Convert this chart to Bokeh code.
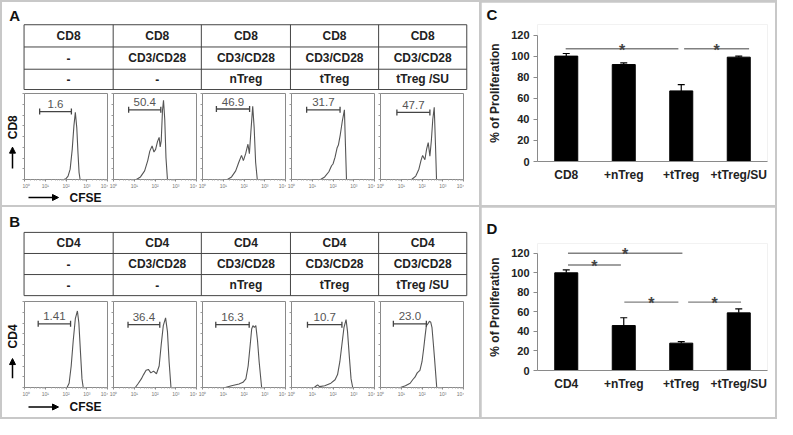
import math
from bokeh.plotting import figure
from bokeh.layouts import row, column
from bokeh.models import (Range1d, FixedTicker, Arrow, NormalHead, Whisker,
                          TeeHead, ColumnDataSource)
from bokeh.core.properties import value
from bokeh.embed import file_html
from bokeh.resources import INLINE

FONT = "Liberation Sans"

# ------------------------------------------------------------------ data
A_row1 = ["CD8", "CD8", "CD8", "CD8", "CD8"]
A_row2 = ["-", "CD3/CD28", "CD3/CD28", "CD3/CD28", "CD3/CD28"]
A_row3 = ["-", "-", "nTreg", "tTreg", "tTreg /SU"]
B_row1 = ["CD4", "CD4", "CD4", "CD4", "CD4"]
B_row2 = ["-", "CD3/CD28", "CD3/CD28", "CD3/CD28", "CD3/CD28"]
B_row3 = ["-", "-", "nTreg", "tTreg", "tTreg /SU"]

decade_labels = ["10\u2070", "10\u00b9", "10\u00b2", "10\u00b3", "10\u2074"]

# gated percentages and gate positions (log10 CFSE, relative count)
A_pct = ["1.6", "50.4", "46.9", "31.7", "47.7"]
A_gate_lo = [0.73, 0.73, 0.67, 0.73, 0.79]
A_gate_hi = [2.26, 2.28, 2.27, 2.34, 2.38]
A_gate_y = [0.79, 0.81, 0.82, 0.81, 0.78]
B_pct = ["1.41", "36.4", "16.3", "10.7", "23.0"]
B_gate_lo = [0.66, 0.70, 0.64, 0.77, 0.62]
B_gate_hi = [2.22, 2.23, 2.25, 2.43, 2.21]
B_gate_y = [0.74, 0.73, 0.73, 0.73, 0.74]

# CFSE histograms (x = log10 CFSE, y = relative count)
A1_x = [1.9, 2.0, 2.1, 2.2, 2.3, 2.38, 2.45, 2.52, 2.58, 2.63, 2.68]
A1_y = [0, 0.01, 0.04, 0.12, 0.35, 0.62, 0.78, 0.6, 0.3, 0.08, 0]
A2_x = [1.1, 1.3, 1.5, 1.65, 1.75, 1.86, 1.95, 2.03, 2.12, 2.2, 2.25, 2.3, 2.36, 2.41, 2.47, 2.53, 2.6]
A2_y = [0, 0.03, 0.1, 0.22, 0.33, 0.39, 0.32, 0.35, 0.44, 0.49, 0.38, 0.45, 0.8, 0.92, 0.7, 0.25, 0]
A3_x = [1.2, 1.4, 1.6, 1.75, 1.88, 1.97, 2.08, 2.19, 2.26, 2.33, 2.42, 2.49, 2.56, 2.64]
A3_y = [0, 0.03, 0.1, 0.2, 0.28, 0.22, 0.3, 0.41, 0.3, 0.55, 0.85, 0.6, 0.2, 0]
A4_x = [1.4, 1.6, 1.8, 1.93, 2.0, 2.1, 2.2, 2.26, 2.35, 2.45, 2.55, 2.6, 2.65]
A4_y = [0, 0.03, 0.09, 0.16, 0.18, 0.26, 0.37, 0.4, 0.52, 0.68, 0.81, 0.4, 0]
A5_x = [1.5, 1.7, 1.85, 1.95, 2.03, 2.14, 2.22, 2.3, 2.38, 2.45, 2.52, 2.59, 2.65, 2.7]
A5_y = [0, 0.04, 0.12, 0.22, 0.28, 0.23, 0.35, 0.43, 0.27, 0.45, 0.7, 0.84, 0.4, 0]
B1_x = [2.05, 2.15, 2.25, 2.35, 2.45, 2.55, 2.62, 2.7, 2.77, 2.83]
B1_y = [0, 0.05, 0.25, 0.55, 0.8, 0.89, 0.75, 0.4, 0.1, 0]
B2_x = [1.05, 1.2, 1.34, 1.45, 1.57, 1.68, 1.8, 1.93, 2.07, 2.2, 2.3, 2.4, 2.51, 2.6, 2.68, 2.77]
B2_y = [0, 0.05, 0.1, 0.15, 0.2, 0.21, 0.17, 0.19, 0.16, 0.25, 0.5, 0.72, 0.81, 0.65, 0.3, 0]
B3_x = [1.1, 1.4, 1.76, 1.95, 2.09, 2.2, 2.3, 2.37, 2.43, 2.5, 2.57, 2.65, 2.73, 2.85]
B3_y = [0, 0.02, 0.04, 0.06, 0.1, 0.25, 0.5, 0.68, 0.72, 0.7, 0.72, 0.55, 0.3, 0]
B4_x = [1.1, 1.2, 1.26, 1.35, 1.6, 1.9, 2.1, 2.22, 2.33, 2.43, 2.53, 2.63, 2.7, 2.79, 2.87, 2.95]
B4_y = [0, 0.02, 0.03, 0.01, 0.02, 0.05, 0.09, 0.15, 0.3, 0.5, 0.7, 0.79, 0.65, 0.35, 0.1, 0]
B5_x = [0.96, 1.2, 1.43, 1.55, 1.66, 1.77, 1.9, 2.0, 2.08, 2.15, 2.21, 2.28, 2.36, 2.42, 2.48, 2.55, 2.6, 2.71]
B5_y = [0, 0.02, 0.05, 0.09, 0.12, 0.17, 0.2, 0.3, 0.45, 0.6, 0.72, 0.74, 0.77, 0.76, 0.7, 0.5, 0.35, 0]

# proliferation bar charts
C_cats = ["CD8", "+nTreg", "+tTreg", "+tTreg/SU"]
C_vals = [100, 92, 67, 99]
C_err = [2.5, 1.5, 6, 1]
C_sig_from = [0.49, 2.55]
C_sig_to = [2.45, 3.68]
C_sig_level = [107, 107]

D_cats = ["CD4", "+nTreg", "+tTreg", "+tTreg/SU"]
D_vals = [100, 46, 28, 59]
D_err = [3, 8, 1.6, 4]
D_sig_from = [0.53, 0.53, 1.51, 2.62]
D_sig_to = [1.45, 2.52, 2.45, 3.54]
D_sig_level = [108, 120, 70, 70]

# ------------------------------------------------------------------ helpers
GRAY = "#8a8a8a"
SEP = "#c8c8c8"


def base_fig(**kw):
    p = figure(output_backend="svg", toolbar_location=None, **kw)
    p.grid.visible = False
    p.background_fill_color = "white"
    p.border_fill_color = "white"
    return p


def canvas(width, height, xr, yr):
    p = base_fig(width=width, height=height, x_range=Range1d(*xr), y_range=Range1d(*yr),
                 min_border=0, x_axis_location=None, y_axis_location=None)
    p.outline_line_color = None
    return p


def add_text(p, x, y, texts, size, bold=True, color="#111", align="left",
             baseline="middle", angle=0.0):
    p.text(x=x, y=y, text=texts, text_font=value(FONT),
           text_font_style="bold" if bold else "normal", text_font_size=size,
           text_color=color, text_align=align, text_baseline=baseline, angle=angle)


def add_arrow(p, x0, y0, x1, y1):
    p.add_layout(Arrow(end=NormalHead(size=6, fill_color="black", line_color="black"),
                       x_start=x0, y_start=y0, x_end=x1, y_end=y1,
                       line_color="black", line_width=1.5))


def header(letter, rows, row_lines, ref_h, height, letter_y):
    col_lines = [22, 113, 203, 294, 384, 474]
    p = canvas(477, height, (0, 487), (ref_h, 0))
    add_text(p, [7], [letter_y], [letter], "15px")
    n = len(row_lines)
    p.segment(x0=[col_lines[0]] * n, y0=row_lines, x1=[col_lines[-1]] * n,
              y1=row_lines, line_color="#444", line_width=1)
    m = len(col_lines)
    p.segment(x0=col_lines, y0=[row_lines[0]] * m, x1=col_lines,
              y1=[row_lines[-1]] * m, line_color="#444", line_width=1)
    xc = [(col_lines[i] + col_lines[i + 1]) / 2 for i in range(5)]
    for r, texts in enumerate(rows):
        yc = (row_lines[r] + row_lines[r + 1]) / 2
        add_text(p, xc, [yc] * 5, texts, "12px", color="#222", align="center")
    return p


def side(marker, height, y_lab, y_arr0, y_arr1):
    p = canvas(20, height, (0, 20), (0, height))
    add_text(p, [10], [y_lab], [marker], "12px", align="center", angle=math.pi / 2)
    add_arrow(p, 10, y_arr0, 10, y_arr1)
    return p


def footer(height, yc):
    p = canvas(477, height, (0, 477), (0, height))
    add_arrow(p, 26, yc, 56, yc)
    add_text(p, [67], [yc], ["CFSE"], "12px")
    return p


minor_x = [n + math.log10(k) for n in range(4) for k in range(2, 10)]


def hist(xs, ys, lo, hi, gy, pct, first):
    p = base_fig(width=86 if first else 89, height=101,
                 x_range=Range1d(0, 4), y_range=Range1d(0, 1),
                 min_border_left=2 if first else 5, min_border_right=1,
                 min_border_top=3, min_border_bottom=10)
    p.outline_line_color = GRAY
    xa = p.xaxis[0]
    xa.ticker = FixedTicker(ticks=[0, 1, 2, 3, 4], minor_ticks=minor_x)
    xa.major_label_overrides = {i: decade_labels[i] for i in range(5)}
    xa.major_label_text_font_size = "5px"
    xa.major_label_text_color = "#777"
    xa.major_label_standoff = 1
    xa.major_tick_out = 2
    xa.major_tick_in = 0
    xa.minor_tick_out = 1
    xa.minor_tick_in = 0
    xa.axis_line_color = GRAY
    xa.major_tick_line_color = GRAY
    xa.minor_tick_line_color = "#aaa"
    ya = p.yaxis[0]
    # only small unlabeled ticks on the count axis
    ya.ticker = FixedTicker(ticks=[], minor_ticks=[0, 0.125, 0.25, 0.375, 0.5,
                                                   0.625, 0.75, 0.875, 1.0])
    ya.major_label_standoff = 0
    ya.minor_tick_out = 2
    ya.minor_tick_in = 0
    ya.axis_line_color = GRAY
    ya.minor_tick_line_color = "#999"
    p.line(xs, ys, line_color="#555", line_width=1.1)
    p.segment(x0=[lo], y0=[gy], x1=[hi], y1=[gy], line_color="#444", line_width=1.3)
    p.segment(x0=[lo, hi], y0=[gy - 0.035] * 2, x1=[lo, hi], y1=[gy + 0.035] * 2,
              line_color="#444", line_width=1.3)
    add_text(p, [(lo + hi) / 2], [gy + 0.04], [pct], "11.5px", bold=False,
             color="#555", align="center", baseline="bottom")
    return p


def bars(cats, vals, errs, sf, st, sl, letter, height, top, bottom, standoff):
    xs = [i + 0.5 for i in range(len(cats))]
    src = ColumnDataSource(dict(x=xs, top=vals,
                                upper=[v + e for v, e in zip(vals, errs)]))
    p = base_fig(width=294, height=height, x_range=Range1d(0, 4),
                 y_range=Range1d(0, 130), min_border_left=56, min_border_right=8,
                 min_border_top=top, min_border_bottom=bottom)
    p.outline_line_color = None
    p.title.text = letter
    p.title.align = "left"
    p.title.offset = -51
    p.title.standoff = standoff
    p.title.text_font = FONT
    p.title.text_font_style = "bold"
    p.title.text_font_size = "15px"
    p.title.text_color = "#111"
    p.vbar(x="x", top="top", width=0.4, source=src, fill_color="black",
           line_color="black")
    p.add_layout(Whisker(source=src, base="x", upper="upper", lower="top",
                         line_color="black", line_width=1.2, lower_head=None,
                         upper_head=TeeHead(size=7, line_color="black", line_width=1.2)))
    p.segment(x0=sf, y0=sl, x1=st, y1=sl, line_color="#808080", line_width=1.3)
    add_text(p, [(a + b) / 2 for a, b in zip(sf, st)], [l - 1.5 for l in sl],
             ["*"] * len(sl), "16px", bold=True, color="#444", align="center",
             baseline="alphabetic")
    xa = p.xaxis[0]
    xa.ticker = FixedTicker(ticks=xs)
    xa.major_label_overrides = {x: c for x, c in zip(xs, cats)}
    xa.major_tick_out = 0
    xa.major_tick_in = 0
    xa.minor_tick_out = 0
    xa.minor_tick_in = 0
    xa.axis_line_color = GRAY
    xa.major_label_standoff = 6
    xa.major_label_text_font = FONT
    xa.major_label_text_font_style = "bold"
    xa.major_label_text_font_size = "12px"
    xa.major_label_text_color = "#222"
    ya = p.yaxis[0]
    ya.ticker = FixedTicker(ticks=[0, 20, 40, 60, 80, 100, 120])
    ya.bounds = (0, 120)
    ya.major_tick_out = 4
    ya.major_tick_in = 0
    ya.minor_tick_out = 0
    ya.minor_tick_in = 0
    ya.axis_line_color = GRAY
    ya.major_tick_line_color = GRAY
    ya.major_label_standoff = 4
    ya.major_label_text_font = FONT
    ya.major_label_text_font_style = "bold"
    ya.major_label_text_font_size = "11px"
    ya.major_label_text_color = "#222"
    ya.axis_label = "% of Proliferation"
    ya.axis_label_standoff = 6
    ya.axis_label_text_font = FONT
    ya.axis_label_text_font_style = "bold"
    ya.axis_label_text_font_size = "12px"
    ya.axis_label_text_color = "#222"
    return p


# ------------------------------------------------------------------ panels
hdrA = header("A", [A_row1, A_row2, A_row3], [23, 46, 69, 90], 91, 88, 13)
hdrB = header("B", [B_row1, B_row2, B_row3], [26, 48, 70, 92], 95, 91, 15)

A_data = [(A1_x, A1_y), (A2_x, A2_y), (A3_x, A3_y), (A4_x, A4_y), (A5_x, A5_y)]
B_data = [(B1_x, B1_y), (B2_x, B2_y), (B3_x, B3_y), (B4_x, B4_y), (B5_x, B5_y)]

histA = [hist(d[0], d[1], A_gate_lo[i], A_gate_hi[i], A_gate_y[i], A_pct[i], i == 0)
         for i, d in enumerate(A_data)]
histB = [hist(d[0], d[1], B_gate_lo[i], B_gate_hi[i], B_gate_y[i], B_pct[i], i == 0)
         for i, d in enumerate(B_data)]

sideA = side("CD8", 101, 61.4, 13, 38)
sideB = side("CD4", 101, 60, 11, 34)

white = {"background-color": "white"}
panelA = column(hdrA, row(sideA, *histA, spacing=0, styles=white), footer(14, 8),
                spacing=0, width=477, styles=white)
panelB = column(hdrB, row(sideB, *histB, spacing=0, styles=white), footer(18, 10.5),
                spacing=0, width=477, styles=white)

pC = bars(C_cats, C_vals, C_err, C_sig_from, C_sig_to, C_sig_level, "C", 203, 21, 44, 3)
pD = bars(D_cats, D_vals, D_err, D_sig_from, D_sig_to, D_sig_level, "D", 210, 36, 47, 13)

sep = {"background-color": SEP}
left = column(panelA, panelB, spacing=2, styles=sep)
right = column(pC, pD, spacing=2, styles=sep)
root = row(left, right, spacing=2,
           styles={"background-color": SEP, "padding": "2px"})

open("out.html", "w").write(file_html(root, INLINE))
